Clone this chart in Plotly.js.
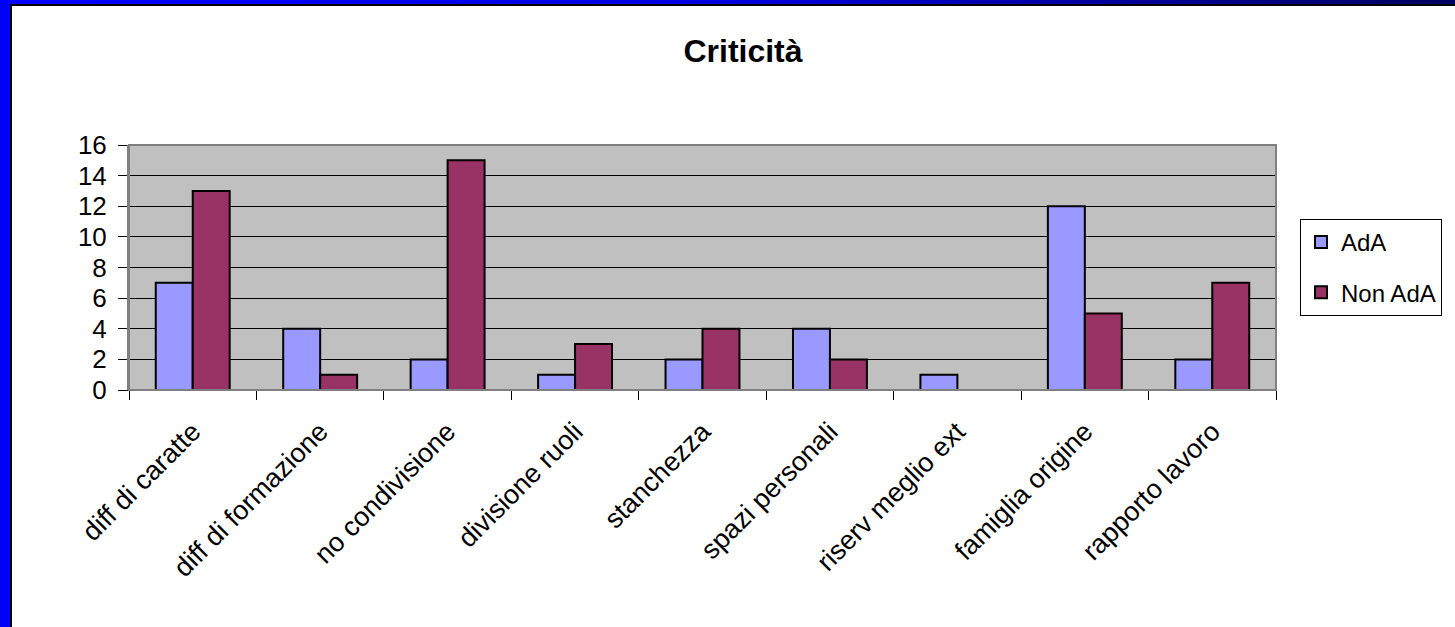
<!DOCTYPE html>
<html>
<head>
<meta charset="utf-8">
<script src="https://cdn.plot.ly/plotly-3.0.1.min.js"></script>
<style>
html,body{margin:0;padding:0;background:#fff;overflow:hidden;}
#wrap{position:relative;width:1455px;height:627px;}
#chart{position:absolute;left:0;top:0;width:1455px;height:627px;}
#bl{position:absolute;left:0;top:0;width:10px;height:627px;background:#0000FF;}
#blk{position:absolute;left:10px;top:4px;width:2px;height:623px;background:#000;}
#bt{position:absolute;left:0;top:0;width:1455px;height:4px;background:linear-gradient(to right,#0000FF 0%,#0000E0 50%,#000060 100%);}
#btk{position:absolute;left:10px;top:4px;width:1445px;height:2px;background:#000;}
</style>
</head>
<body>
<div id="wrap">
<div id="chart"></div>
<div id="bl"></div><div id="bt"></div><div id="blk"></div><div id="btk"></div>
</div>
<script>
const categories = ["diff di caratte","diff di formazione","no condivisione","divisione ruoli","stanchezza","spazi personali","riserv meglio ext","famiglia origine","rapporto lavoro"];
const ada = [7,4,2,1,2,4,1,12,2];
const nonAda = [13,1,15,3,4,2,0,5,7];
const yTicks = [0,2,4,6,8,10,12,14,16];

const font = "Arial, 'Liberation Sans', sans-serif";
const traces = [
  {type:"bar", name:"AdA", x:categories, y:ada, legendgroup:"a",
   marker:{color:"#9999FF", line:{color:"#000", width:2}}},
  {type:"bar", name:"Non AdA", x:categories, y:nonAda, legendgroup:"b",
   marker:{color:"#993366", line:{color:"#000", width:2}}}
];
const layout = {
  width:1455, height:627,
  margin:{l:129, r:179, t:145, b:237, pad:0},
  paper_bgcolor:"rgba(0,0,0,0)",
  plot_bgcolor:"#C0C0C0",
  barmode:"group", bargap:0.42, bargroupgap:0,
  font:{family:font, color:"#000"},
  title:{text:"<b>Criticità</b>", font:{size:32, family:font, color:"#000"},
         x:743/1455, xanchor:"center", xref:"container", y:1-51/627, yanchor:"middle", yref:"container"},
  xaxis:{type:"category", tickangle:-45, tickfont:{size:27, family:font},
         ticks:"outside", tickson:"boundaries", ticklen:9, tickcolor:"#000", tickwidth:1,
         ticklabelstandoff:14,
         showline:true, linecolor:"#000", linewidth:1, showgrid:false, fixedrange:true},
  yaxis:{range:[0,16], tickvals:yTicks, ticktext:yTicks.map(String), tickfont:{size:26, family:font},
         ticks:"outside", ticklen:9, tickcolor:"#000", tickwidth:1, ticklabelstandoff:6,
         showgrid:true, gridcolor:"#000", gridwidth:1, zeroline:true, zerolinecolor:"#000", zerolinewidth:1,
         showline:true, linecolor:"#808080", linewidth:2, fixedrange:true},
  shapes:[{type:"rect", xref:"paper", yref:"paper", x0:0, x1:1, y0:0, y1:1,
           line:{color:"#808080", width:2}, fillcolor:"rgba(0,0,0,0)", layer:"above"}],
  legend:{x:(1300-129)/1147, xanchor:"left", y:(390-219)/245, yanchor:"top",
          bordercolor:"#000", borderwidth:1, bgcolor:"#fff",
          font:{size:24, family:font}, traceorder:"grouped", tracegroupgap:16},
  showlegend:true
};
Plotly.newPlot("chart", traces, layout, {displayModeBar:false, staticPlot:true});
</script>
</body>
</html>
